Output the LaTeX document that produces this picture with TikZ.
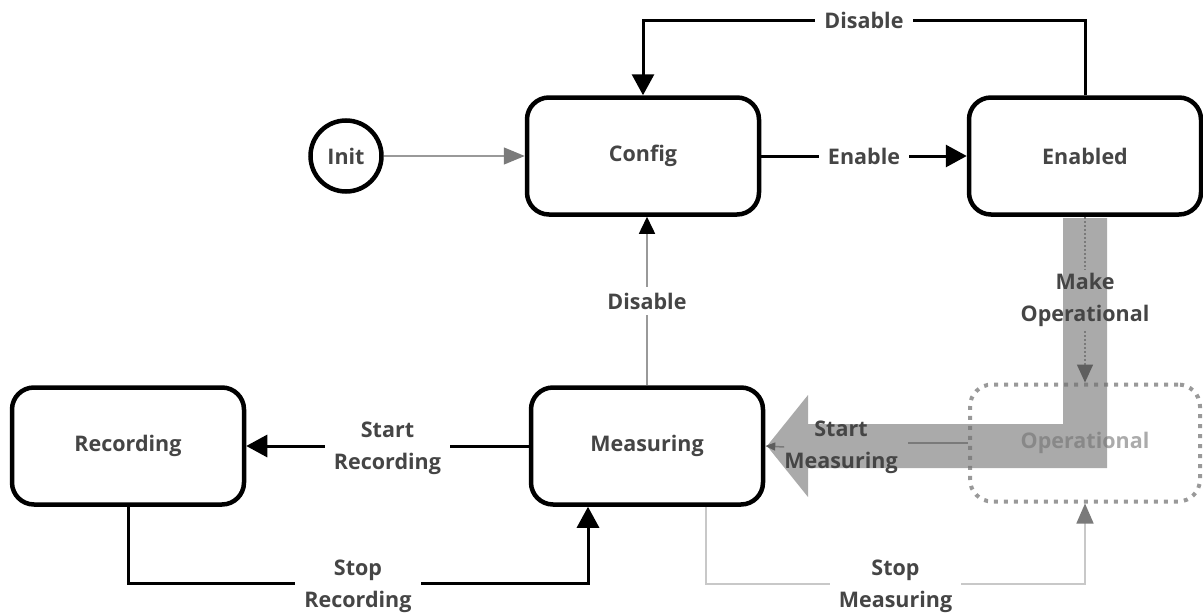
\documentclass[tikz,border=0pt]{standalone}
\usepackage{fontspec}
\setmainfont{Open Sans}
\usepackage{tikz}
\usetikzlibrary{calc}
\usetikzlibrary{arrows.meta}
\usetikzlibrary{positioning, shapes.geometric}
\usepackage{xcolor}
\definecolor{myTextGray}{HTML}{454545}
\definecolor{myLineGray}{HTML}{999999}
\definecolor{myPaleGray}{HTML}{c8c8c8}
\definecolor{myTipGray}{HTML}{7a7a7a}
\definecolor{myDarkTip}{HTML}{5e5e5e}
\definecolor{myBand}{HTML}{717171}
\colorlet{colorOper}{black!40}

\begin{document}
\begin{tikzpicture}[x=1pt,y=-1pt,
    labelfont/.style={font=\fontsize{21.5}{32}\selectfont\bfseries},
    statebox/.style={draw=black, line width=4.5pt, rounded corners=22pt,
      minimum width=232pt, minimum height=117pt, text=myTextGray, labelfont},
    initstate/.style={circle, draw=black, line width=4.5pt, minimum size=71pt,
      inner sep=0pt, text=myTextGray, labelfont},
    operbox/.style={draw=colorOper, line width=4pt, dash pattern=on 4pt off 6pt,
      rounded corners=22pt, minimum width=230pt, minimum height=117pt,
      text=black!33, labelfont},
    edgelabel/.style={fill=white, text=myTextGray, align=center,
      inner xsep=9pt, inner ysep=6pt, labelfont},
    flow/.style={line width=3pt, -{Triangle[length=21pt,width=22pt]}},
    flowline/.style={line width=3pt},
    ]
  \useasboundingbox (0,0) rectangle (1203,613);

  % states
  \node[initstate] (init) at (346,156) {Init};
  \node[statebox] (config) at (643,156) {Config};
  \node[statebox] (enabled) at (1085,156) {Enabled};
  \node[statebox] (measuring) at (647,446) {Measuring};
  \node[statebox] (recording) at (128,446) {Recording};
  \node[operbox] (operational) at (1085,443) {Operational};

  % wide grey arrow, Enabled -> Measuring
  \fill[myBand, opacity=0.6] (1063,218) -- (1107,218) -- (1107,468) -- (808,468)
    -- (808,497) -- (767,446) -- (808,395) -- (808,424) -- (1063,424) -- cycle;

  % transitions
  \draw[line width=1.5pt, color=myLineGray,
    -{Triangle[length=21pt,width=17pt,color=myTipGray]}] (init) -- (config);
  \draw[flow] (config) -- node[edgelabel] {Enable} (enabled);
  \draw[flow] (enabled.north) -- ++(0,-75)
    -| node[edgelabel, pos=0.25] {Disable} (config.north);
  \draw[line width=1.5pt, color=myLineGray,
    -{Triangle[length=17pt,width=16pt,color=black]}]
    (measuring.north) -- node[edgelabel] {Disable} (measuring.north |- config.south);
  \draw[flow] (measuring) -- node[edgelabel, yshift=-2pt] {Start\\Recording} (recording);
  \draw[flow] (recording.south) -- ++(0,77)
    -| node[edgelabel, pos=0.25, yshift=-3pt] {Stop\\Recording} ([xshift=-59pt]measuring.south);
  \draw[line width=1.5pt, color=myPaleGray,
    -{Triangle[length=20pt,width=17pt,color=myTipGray]}]
    ([xshift=59pt]measuring.south) -- ++(0,77)
    -| node[edgelabel, pos=0.25, yshift=-3pt] {Stop\\Measuring} (operational.south);

  % Make Operational (dotted)
  \node[align=center, text=myTextGray, inner sep=4pt, labelfont] (makeop) at (1085,300)
    {Make\\Operational};
  \draw[line width=1.5pt, color=myTipGray, dash pattern=on 2pt off 2pt]
    (enabled.south) -- (makeop.north);
  \draw[line width=1.5pt, color=myTipGray, dash pattern=on 2pt off 2pt,
    -{Triangle[length=18pt,width=16pt,color=myDarkTip]}]
    (makeop.south) -- (operational.north);

  % Start Measuring
  \node[align=center, text=myTextGray, inner xsep=0pt, labelfont] (startmeas) at (841,447)
    {Start\\Measuring};
  \draw[line width=1.5pt, color=myTipGray]
    (operational.west) -- ([xshift=10pt]startmeas.east |- operational.west);
  \draw[line width=1.5pt, color=myTipGray,
    -{Triangle[length=10pt,width=8pt,color=myDarkTip]}]
    (startmeas.west) -- (measuring.east);
\end{tikzpicture}
\end{document}
